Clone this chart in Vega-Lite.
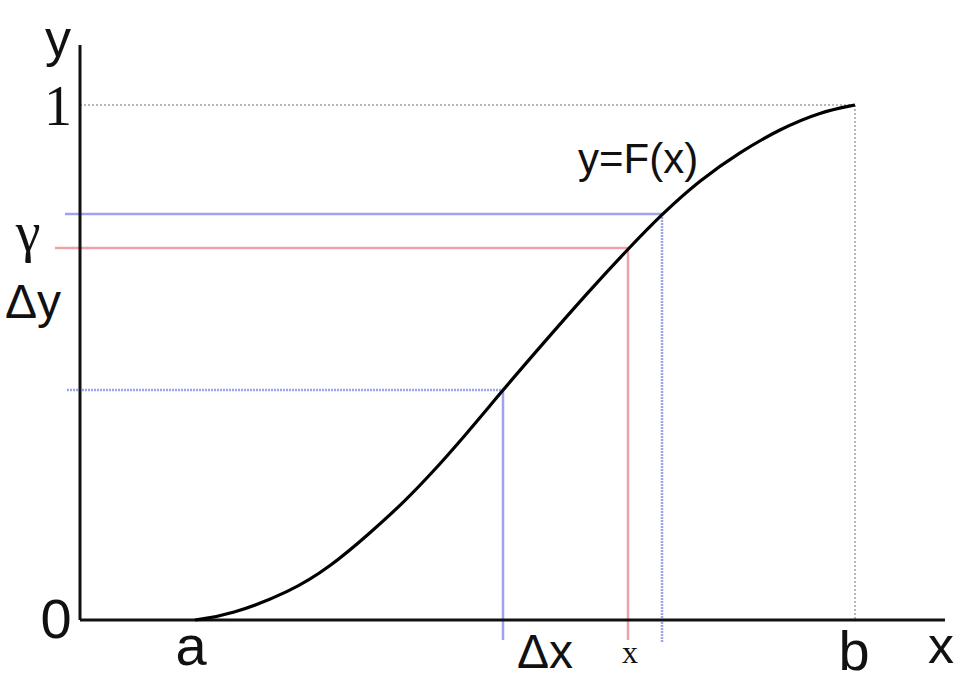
{
  "$schema": "https://vega.github.io/schema/vega-lite/v6.json",
  "width": 955,
  "height": 684,
  "autosize": {"type": "fit", "contains": "padding"},
  "padding": 0,
  "background": "white",
  "config": {"view": {"stroke": null}},
  "datasets": {
    "curve": [
      {"x": 0.1484, "y": 0.0},
      {"x": 0.1935, "y": 0.0097},
      {"x": 0.2710, "y": 0.0544},
      {"x": 0.3226, "y": 0.1029},
      {"x": 0.3742, "y": 0.1689},
      {"x": 0.4168, "y": 0.2272},
      {"x": 0.4516, "y": 0.2815},
      {"x": 0.4942, "y": 0.3534},
      {"x": 0.5458, "y": 0.4466},
      {"x": 0.5935, "y": 0.5301},
      {"x": 0.6581, "y": 0.6408},
      {"x": 0.7071, "y": 0.7204},
      {"x": 0.7510, "y": 0.7883},
      {"x": 0.8000, "y": 0.8544},
      {"x": 0.8516, "y": 0.9087},
      {"x": 0.9032, "y": 0.9534},
      {"x": 0.9548, "y": 0.9864},
      {"x": 1.0, "y": 1.0}
    ],
    "grey_guides": [
      {"x": 0, "y": 1, "x2": 1, "y2": 1},
      {"x": 1, "y": 1, "x2": 1, "y2": 0}
    ],
    "blue_solid": [
      {"x": -0.0194, "y": 0.7883, "x2": 0.7510, "y2": 0.7883},
      {"x": 0.5458, "y": 0.4466, "x2": 0.5458, "y2": -0.0388}
    ],
    "blue_dotted": [
      {"x": -0.0168, "y": 0.4466, "x2": 0.5458, "y2": 0.4466},
      {"x": 0.7510, "y": 0.7883, "x2": 0.7510, "y2": -0.0447}
    ],
    "red_lines": [
      {"x": -0.0323, "y": 0.7223, "x2": 0.7071, "y2": 0.7223},
      {"x": 0.7071, "y": 0.7223, "x2": 0.7071, "y2": -0.0388}
    ],
    "axes": [
      {"x": 0, "y": 0, "x2": 0, "y2": 1.1165},
      {"x": 0, "y": 0, "x2": 1.1161, "y2": 0}
    ],
    "labels_big": [
      {"label": "0", "x": -0.0310, "y": -0.0350},
      {"label": "a", "x": 0.1432, "y": -0.0874},
      {"label": "b", "x": 0.9987, "y": -0.0971}
    ],
    "labels_mid": [
      {"label": "y", "x": -0.0284, "y": 1.0951},
      {"label": "x", "x": 1.1110, "y": -0.0835}
    ],
    "labels_delta": [
      {"label": "Δy", "x": -0.0606, "y": 0.5864},
      {"label": "Δx", "x": 0.6, "y": -0.0932}
    ],
    "labels_serif_big": [
      {"label": "1", "x": -0.0284, "y": 0.9612},
      {"label": "γ", "x": -0.0671, "y": 0.7165}
    ],
    "labels_serif_small": [
      {"label": "x", "x": 0.7097, "y": -0.0835}
    ],
    "labels_func": [
      {"label": "y=F(x)", "x": 0.6426, "y": 0.8680}
    ]
  },
  "layer": [
    {
      "data": {"name": "grey_guides"},
      "mark": {"type": "rule", "stroke": "#a0a0a0", "strokeWidth": 1.5, "strokeDash": [2, 2]},
      "encoding": {
        "x": {"field": "x", "type": "quantitative", "scale": {"domain": [-0.10323, 1.12903], "nice": false, "zero": false}, "axis": null},
        "y": {"field": "y", "type": "quantitative", "scale": {"domain": [-0.12427, 1.20388], "nice": false, "zero": false}, "axis": null},
        "x2": {"field": "x2"},
        "y2": {"field": "y2"}
      }
    },
    {
      "data": {"name": "blue_solid"},
      "mark": {"type": "rule", "stroke": "#9ea2ef", "strokeWidth": 2.5},
      "encoding": {
        "x": {"field": "x", "type": "quantitative", "scale": {"domain": [-0.10323, 1.12903], "nice": false, "zero": false}, "axis": null},
        "y": {"field": "y", "type": "quantitative", "scale": {"domain": [-0.12427, 1.20388], "nice": false, "zero": false}, "axis": null},
        "x2": {"field": "x2"},
        "y2": {"field": "y2"}
      }
    },
    {
      "data": {"name": "blue_dotted"},
      "mark": {"type": "rule", "stroke": "#98a6ee", "strokeWidth": 2.5, "strokeDash": [2, 1]},
      "encoding": {
        "x": {"field": "x", "type": "quantitative", "scale": {"domain": [-0.10323, 1.12903], "nice": false, "zero": false}, "axis": null},
        "y": {"field": "y", "type": "quantitative", "scale": {"domain": [-0.12427, 1.20388], "nice": false, "zero": false}, "axis": null},
        "x2": {"field": "x2"},
        "y2": {"field": "y2"}
      }
    },
    {
      "data": {"name": "red_lines"},
      "mark": {"type": "rule", "stroke": "#f0a2aa", "strokeWidth": 2.5},
      "encoding": {
        "x": {"field": "x", "type": "quantitative", "scale": {"domain": [-0.10323, 1.12903], "nice": false, "zero": false}, "axis": null},
        "y": {"field": "y", "type": "quantitative", "scale": {"domain": [-0.12427, 1.20388], "nice": false, "zero": false}, "axis": null},
        "x2": {"field": "x2"},
        "y2": {"field": "y2"}
      }
    },
    {
      "data": {"name": "axes"},
      "mark": {"type": "rule", "stroke": "#111111", "strokeWidth": 3},
      "encoding": {
        "x": {"field": "x", "type": "quantitative", "scale": {"domain": [-0.10323, 1.12903], "nice": false, "zero": false}, "axis": null},
        "y": {"field": "y", "type": "quantitative", "scale": {"domain": [-0.12427, 1.20388], "nice": false, "zero": false}, "axis": null},
        "x2": {"field": "x2"},
        "y2": {"field": "y2"}
      }
    },
    {
      "data": {"name": "curve"},
      "mark": {"type": "line", "stroke": "#000000", "strokeWidth": 3.2, "interpolate": "basis"},
      "encoding": {
        "x": {"field": "x", "type": "quantitative", "scale": {"domain": [-0.10323, 1.12903], "nice": false, "zero": false}, "axis": null},
        "y": {"field": "y", "type": "quantitative", "scale": {"domain": [-0.12427, 1.20388], "nice": false, "zero": false}, "axis": null}
      }
    },
    {
      "data": {"name": "labels_big"},
      "mark": {"type": "text", "font": "Liberation Sans", "fontSize": 56, "align": "center", "baseline": "alphabetic", "color": "#111111"},
      "encoding": {
        "x": {"field": "x", "type": "quantitative", "scale": {"domain": [-0.10323, 1.12903], "nice": false, "zero": false}, "axis": null},
        "y": {"field": "y", "type": "quantitative", "scale": {"domain": [-0.12427, 1.20388], "nice": false, "zero": false}, "axis": null},
        "text": {"field": "label"}
      }
    },
    {
      "data": {"name": "labels_mid"},
      "mark": {"type": "text", "font": "Liberation Sans", "fontSize": 52, "align": "center", "baseline": "alphabetic", "color": "#111111"},
      "encoding": {
        "x": {"field": "x", "type": "quantitative", "scale": {"domain": [-0.10323, 1.12903], "nice": false, "zero": false}, "axis": null},
        "y": {"field": "y", "type": "quantitative", "scale": {"domain": [-0.12427, 1.20388], "nice": false, "zero": false}, "axis": null},
        "text": {"field": "label"}
      }
    },
    {
      "data": {"name": "labels_delta"},
      "mark": {"type": "text", "font": "Liberation Sans", "fontSize": 48, "align": "center", "baseline": "alphabetic", "color": "#111111"},
      "encoding": {
        "x": {"field": "x", "type": "quantitative", "scale": {"domain": [-0.10323, 1.12903], "nice": false, "zero": false}, "axis": null},
        "y": {"field": "y", "type": "quantitative", "scale": {"domain": [-0.12427, 1.20388], "nice": false, "zero": false}, "axis": null},
        "text": {"field": "label"}
      }
    },
    {
      "data": {"name": "labels_serif_big"},
      "mark": {"type": "text", "font": "Liberation Serif", "fontSize": 56, "align": "center", "baseline": "alphabetic", "color": "#111111"},
      "encoding": {
        "x": {"field": "x", "type": "quantitative", "scale": {"domain": [-0.10323, 1.12903], "nice": false, "zero": false}, "axis": null},
        "y": {"field": "y", "type": "quantitative", "scale": {"domain": [-0.12427, 1.20388], "nice": false, "zero": false}, "axis": null},
        "text": {"field": "label"}
      }
    },
    {
      "data": {"name": "labels_serif_small"},
      "mark": {"type": "text", "font": "Liberation Serif", "fontSize": 32, "align": "center", "baseline": "alphabetic", "color": "#111111"},
      "encoding": {
        "x": {"field": "x", "type": "quantitative", "scale": {"domain": [-0.10323, 1.12903], "nice": false, "zero": false}, "axis": null},
        "y": {"field": "y", "type": "quantitative", "scale": {"domain": [-0.12427, 1.20388], "nice": false, "zero": false}, "axis": null},
        "text": {"field": "label"}
      }
    },
    {
      "data": {"name": "labels_func"},
      "mark": {"type": "text", "font": "Liberation Sans", "fontSize": 42, "align": "left", "baseline": "alphabetic", "color": "#111111"},
      "encoding": {
        "x": {"field": "x", "type": "quantitative", "scale": {"domain": [-0.10323, 1.12903], "nice": false, "zero": false}, "axis": null},
        "y": {"field": "y", "type": "quantitative", "scale": {"domain": [-0.12427, 1.20388], "nice": false, "zero": false}, "axis": null},
        "text": {"field": "label"}
      }
    }
  ]
}
